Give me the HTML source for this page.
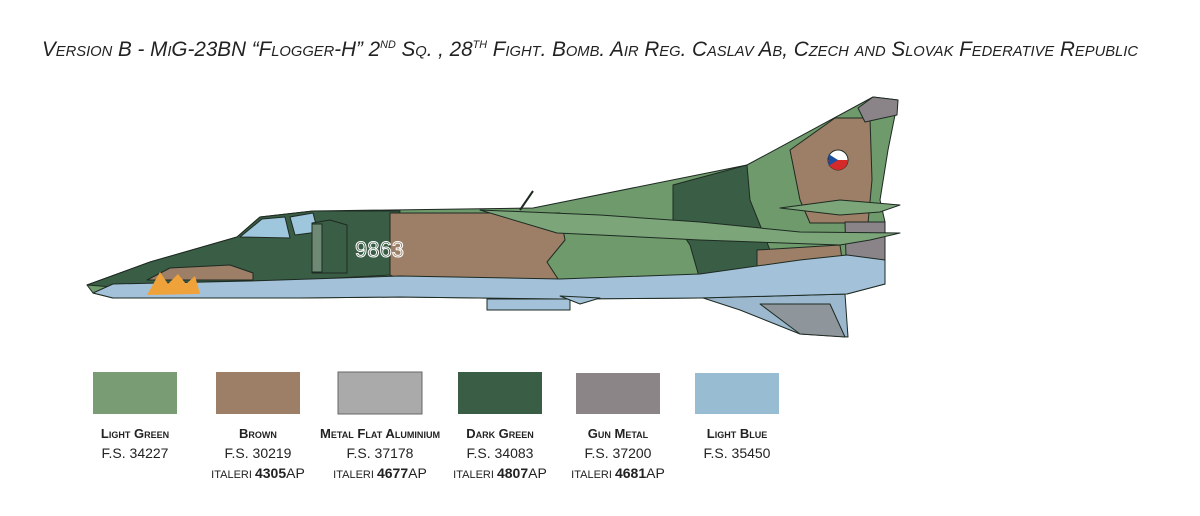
<!DOCTYPE html>
<html><head><meta charset="utf-8"><style>html,body{margin:0;padding:0;background:#fff}svg{display:block}</style></head>
<body>
<svg width="1200" height="516" viewBox="0 0 1200 516" xmlns="http://www.w3.org/2000/svg" font-family="'Liberation Sans', sans-serif">
<rect width="1200" height="516" fill="#fff"/>
<text x="42" y="56" font-size="21" font-style="italic" style="font-variant:small-caps" fill="#222" textLength="1096" lengthAdjust="spacingAndGlyphs">Version B - MiG-23BN “Flogger-H” 2<tspan font-size="11" dy="-8">ND</tspan><tspan dy="8"> Sq. , 28</tspan><tspan font-size="11" dy="-8">TH</tspan><tspan dy="8"> Fight. Bomb. Air Reg. Caslav Ab, Czech and Slovak Federative Republic</tspan></text>

<g stroke="#1e2a22" stroke-width="1" stroke-linejoin="round">
  <!-- ventral fin -->
  <polygon points="697,296 845,294 848,337 800,334 740,310" fill="#9cb8cf"/>
  <polygon points="760,304 830,304 845,337 800,334" fill="#8e969c"/>
  <!-- main fuselage -->
  <polygon points="87,285 150,262 237,237 260,217 313,211 533,208 747,165 873,97 898,100 888,150 880,200 885,222 885,284 847,294 700,298 560,299 400,297 300,298 113,298 93,293" fill="#6e9a6c"/>
  <!-- dark green front -->
  <polygon points="87,285 150,262 237,237 260,217 313,211 400,211 390,275 300,280 200,282 113,287" fill="#3a5d45"/>
  <polygon points="147,280 170,268 230,265 253,273 253,280" fill="#9c7f66"/>
  <polygon points="390,213 560,213 565,240 547,262 560,282 400,280 390,275" fill="#9c7f66"/>
  <polygon points="673,185 747,165 750,200 770,250 757,268 740,280 700,280 690,245 673,220" fill="#3a5d45"/>
  <polygon points="757,250 840,245 845,280 757,282" fill="#9c7f66"/>
  <polygon points="790,150 835,118 870,118 872,180 868,223 810,223 800,200" fill="#9c7f66"/>
  <polygon points="873,97 898,100 897,115 865,122 858,108" fill="#8a8489"/>
  <polygon points="845,222 885,222 885,284 847,292" fill="#8a8489"/>
  <!-- light blue underside -->
  <polygon points="93,293 113,284 250,281 400,276 560,279 700,274 800,260 847,255 885,260 885,284 847,294 700,298 560,299 400,297 300,298 113,298" fill="#a3c2da"/>
  <!-- cockpit -->
  <polygon points="240,237 262,219 285,217 290,238" fill="#9ec7de"/>
  <polygon points="290,217 313,213 318,232 295,235" fill="#9ec7de"/>
  <!-- intake -->
  <polygon points="312,223 330,220 347,225 347,273 312,273" fill="#3a5d45"/>
  <rect x="312" y="224" width="10" height="48" fill="#6f8a74"/>
  <!-- wing glove -->
  <polygon points="480,210 600,215 700,222 800,232 900,233 870,240 840,245 700,240 600,235 557,233" fill="#7ca67a"/>
  <polygon points="780,208 840,200 900,205 880,212 840,215" fill="#7ca67a"/>
  <!-- underbody stores -->
  <rect x="487" y="299" width="83" height="11" fill="#a3c2da"/>
  <polygon points="560,296 600,298 580,304" fill="#a3c2da"/>
  <line x1="520" y1="210" x2="533" y2="191" stroke-width="2"/>
  <circle cx="838" cy="160" r="10" fill="#fff"/>
</g>
<path d="M828,160 A10,10 0 0 0 848,160 Z" fill="#d42a2a"/>
<path d="M828.5,154 L838,160 L828.5,166 Z" fill="#1d4fa0"/>
<path d="M147,295 L160,272 L168,284 L178,274 L186,284 L195,276 L200,294 Z" fill="#f0a23a"/>
<text x="355" y="257" font-size="22" fill="none" stroke="#fff" stroke-width="1">9863</text>

<rect x="93" y="372" width="84" height="42" fill="#7a9c74"/>
<rect x="216" y="372" width="84" height="42" fill="#9c7f66"/>
<rect x="338" y="372" width="84" height="42" fill="#aaaaaa" stroke="#666" stroke-width="1"/>
<rect x="458" y="372" width="84" height="42" fill="#3a5d45"/>
<rect x="576" y="373" width="84" height="41" fill="#8c8587"/>
<rect x="695" y="373" width="84" height="41" fill="#98bcd2"/>

<g fill="#222" text-anchor="middle">
  <g font-weight="bold" font-size="13" style="font-variant:small-caps">
    <text x="135" y="438">Light Green</text>
    <text x="258" y="438">Brown</text>
    <text x="380" y="438" textLength="120" lengthAdjust="spacingAndGlyphs">Metal Flat Aluminium</text>
    <text x="500" y="438">Dark Green</text>
    <text x="618" y="438">Gun Metal</text>
    <text x="737" y="438">Light Blue</text>
  </g>
  <g font-size="14">
    <text x="135" y="458">F.S. 34227</text>
    <text x="258" y="458">F.S. 30219</text>
    <text x="380" y="458">F.S. 37178</text>
    <text x="500" y="458">F.S. 34083</text>
    <text x="618" y="458">F.S. 37200</text>
    <text x="737" y="458">F.S. 35450</text>
  </g>
  <g font-size="14">
    <text x="258" y="478"><tspan font-size="11">ITALERI </tspan><tspan font-weight="bold">4305</tspan>AP</text>
    <text x="380" y="478"><tspan font-size="11">ITALERI </tspan><tspan font-weight="bold">4677</tspan>AP</text>
    <text x="500" y="478"><tspan font-size="11">ITALERI </tspan><tspan font-weight="bold">4807</tspan>AP</text>
    <text x="618" y="478"><tspan font-size="11">ITALERI </tspan><tspan font-weight="bold">4681</tspan>AP</text>
  </g>
</g>
</svg>
</body></html>
